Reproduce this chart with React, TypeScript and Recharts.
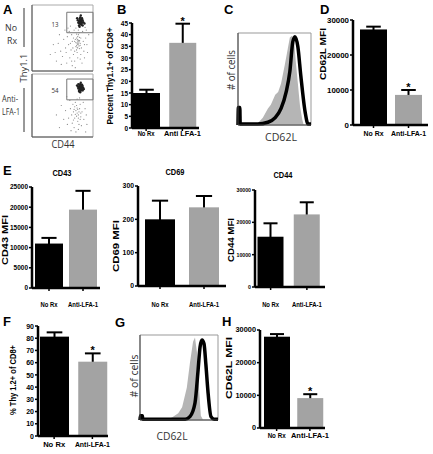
import React from "react";
import {
  BarChart,
  Bar,
  XAxis,
  YAxis,
  ComposedChart,
  Area,
  Line,
  ScatterChart,
  Scatter,
  ReferenceArea,
} from "recharts";

const ARIAL = "'Liberation Sans', Arial, sans-serif";
const FLOW = "'Open Sans', sans-serif";

// groups + bar values
const groupsSpace = ["No Rx", "Anti LFA-1"];
const groupsDash = ["No Rx", "Anti-LFA-1"];
const stars = [false, true];
const noStars = [false, false];

const bValues = [15.0, 36.5];
const bErrors = [1.4, 8.2];
const bTicks = [0, 5, 10, 15, 20, 25, 30, 35, 40, 45];

const dValues = [27300, 8600];
const dErrors = [800, 1400];
const mfiTicks30k = [0, 10000, 20000, 30000];

const cd43Values = [11000, 19400];
const cd43Errors = [1400, 4650];
const cd43Ticks = [0, 5000, 10000, 15000, 20000, 25000];

const cd69Values = [200, 236];
const cd69Errors = [56, 34];
const cd69Ticks = [0, 100, 200, 300];

const cd44Values = [15550, 22450];
const cd44Errors = [4150, 3750];

const fValues = [81.3, 60.8];
const fErrors = [3.5, 6.8];
const fTicks = [0, 10, 20, 30, 40, 50, 60, 70, 80, 90];

const hValues = [27950, 9150];
const hErrors = [800, 1200];

const barFills = ["#000000", "#a3a3a3"];

// histogram traces (CD62L, 0-100 channel scale)
const cGrey = [
  { x: 0, y: 0 }, { x: 23, y: 0 }, { x: 27, y: 2 }, { x: 34, y: 8 }, { x: 41, y: 18 },
  { x: 45, y: 22 }, { x: 51, y: 33 }, { x: 55, y: 36 }, { x: 59, y: 45 }, { x: 64, y: 65 },
  { x: 68, y: 82 }, { x: 71, y: 95 }, { x: 74, y: 97 }, { x: 77, y: 90 }, { x: 79, y: 70 },
  { x: 82, y: 45 }, { x: 85, y: 20 }, { x: 88, y: 6 }, { x: 90, y: 0 }, { x: 100, y: 0 },
];
const cBlack = [
  { x: 0, y: 0 }, { x: 0.5, y: 19 }, { x: 2.5, y: 19 }, { x: 3, y: 1 }, { x: 27, y: 1 },
  { x: 41, y: 3 }, { x: 51, y: 8 }, { x: 59, y: 18 }, { x: 66, y: 36 }, { x: 71, y: 58 },
  { x: 75, y: 90 }, { x: 78, y: 96 }, { x: 82, y: 85 }, { x: 86, y: 54 }, { x: 92, y: 14 },
  { x: 96, y: 1 }, { x: 100, y: 1 },
];
const gGrey = [
  { x: 0, y: 0 }, { x: 32, y: 0 }, { x: 41, y: 3 }, { x: 49, y: 8 }, { x: 54, y: 15 },
  { x: 60, y: 38 }, { x: 64, y: 67 }, { x: 68, y: 92 }, { x: 70.5, y: 97 }, { x: 73, y: 80 },
  { x: 75.5, y: 40 }, { x: 78, y: 5 }, { x: 81, y: 0 }, { x: 100, y: 0 },
];
const gBlack = [
  { x: 0, y: 0 }, { x: 0.5, y: 5 }, { x: 3, y: 5 }, { x: 3.5, y: 1 }, { x: 58, y: 1 },
  { x: 64, y: 4 }, { x: 70.5, y: 20 }, { x: 74.5, y: 59 }, { x: 77, y: 86 }, { x: 79.5, y: 94 },
  { x: 82, y: 90 }, { x: 84.5, y: 65 }, { x: 87, y: 35 }, { x: 91, y: 4 }, { x: 95, y: 1 },
  { x: 100, y: 1 },
];

// flow dot plots (CD44 vs Thy1.1, 0-100 scale)
const topGateDots = [
  [79, 74], [80, 77], [78, 72], [81, 75], [77, 76], [80, 71], [82, 73], [78, 79], [79, 81], [76, 73],
  [83, 77], [81, 70], [77, 69], [80, 84], [84, 74], [75, 77], [82, 80], [78, 67], [86, 72], [79, 76],
  [81, 78], [77, 74], [80, 73], [74, 80], [83, 69],
];
const topLowerDots = [
  [75, 44], [74, 47], [76, 41], [73, 50], [77, 38], [75, 52], [72, 43], [78, 46], [74, 36], [76, 55],
  [71, 48], [79, 42], [73, 32], [77, 58], [75, 40], [70, 45], [80, 50], [74, 28], [76, 62], [72, 37],
  [78, 34], [75, 48], [73, 56], [79, 39], [77, 44], [74, 42], [76, 46], [78, 51], [73, 39], [75, 35],
];
const topSparseDots = [
  [60, 40], [65, 55], [68, 25], [85, 30], [88, 50], [62, 20], [55, 35], [66, 45], [83, 60], [69, 62],
  [58, 52], [90, 40], [64, 32], [86, 20], [70, 15], [80, 25], [52, 48], [67, 35], [84, 45], [61, 60],
  [47, 30], [40, 15], [35, 40], [72, 65], [89, 62], [57, 12], [75, 20], [63, 68], [93, 55], [45, 55],
  [50, 22], [82, 12], [66, 8], [91, 28], [59, 65], [43, 42], [87, 66], [54, 62], [30, 25], [71, 5],
  [68, 50], [63, 42], [81, 35], [70, 30], [86, 40], [56, 28], [79, 18], [65, 15], [48, 10], [38, 28],
];
const botGateDots = [
  [79, 78], [80, 80], [78, 76], [81, 77], [77, 79], [80, 75], [82, 79], [78, 82], [79, 84], [76, 77],
  [83, 81], [81, 74], [77, 73], [80, 86], [84, 78], [75, 80], [82, 83], [78, 72], [85, 76], [79, 80],
  [81, 81], [77, 78], [80, 77], [74, 82], [83, 74], [76, 84], [82, 76], [78, 74], [80, 82], [79, 71],
];
const botCloudDots = [
  [74, 38], [72, 42], [76, 35], [70, 30], [78, 45], [68, 40], [75, 25], [80, 32], [65, 35], [73, 50],
  [77, 20], [71, 55], [82, 40], [66, 22], [79, 52], [63, 45], [85, 28], [69, 15], [74, 60], [60, 30],
  [87, 45], [67, 52], [76, 12], [58, 20], [81, 18], [62, 58], [89, 35], [55, 42], [72, 8], [84, 55],
  [64, 10], [78, 62], [52, 28], [90, 20], [70, 48], [75, 44], [73, 33], [77, 40], [68, 27], [80, 38],
  [48, 50], [45, 15], [88, 8], [57, 64], [40, 35], [71, 36], [76, 30], [74, 46], [79, 28], [69, 44],
];

const flowTicks = [4, 9, 13, 16, 18, 20, 22, 30, 36, 40, 42, 44, 46, 55, 62, 66, 68, 70, 72, 80, 87, 91, 93, 95];

const rows = (names: string[], values: number[], errs: number[], st: boolean[]) =>
  names.map((name, i) => ({ name, value: values[i], err: errs[i], star: st[i] }));
const pts = (arr: number[][]) => arr.map(([x, y]) => ({ x, y }));

function ErrBarShape(props: any) {
  const { x, y, width, height, index, payload } = props;
  const cx = x + width / 2;
  const errPx = payload.value ? (height * payload.err) / payload.value : 0;
  const capW = width * 0.27;
  const topY = y - errPx;
  return (
    <g>
      <line x1={cx} x2={cx} y1={y + 3} y2={topY} stroke="#000" strokeWidth={2} />
      <line x1={cx - capW} x2={cx + capW} y1={topY} y2={topY} stroke="#000" strokeWidth={2} />
      <rect x={x} y={y} width={width} height={height} fill={barFills[index % 2]} />
      {payload.star && (
        <text x={cx} y={topY + 1} textAnchor="middle" fontSize={11} fontWeight={700} fontFamily={ARIAL}>
          *
        </text>
      )}
    </g>
  );
}

// the figure's type is squeezed sideways, so widths are forced with textLength
const yTick = (fs: number, cw: number) => (p: any) => {
  const s = String(p.payload.value);
  return (
    <text x={p.x} y={p.y} dy="0.36em" textAnchor="end" fontSize={fs} fontWeight={700} fontFamily={ARIAL}
      fill="#000" textLength={s.length * cw} lengthAdjust="spacingAndGlyphs">
      {s}
    </text>
  );
};
const xTick = (fs: number, lens: number[]) => (p: any) => (
  <text x={p.x} y={p.y} dy="0.72em" textAnchor="middle" fontSize={fs} fontWeight={700} fontFamily={ARIAL}
    fill="#000" textLength={lens[p.index]} lengthAdjust="spacingAndGlyphs">
    {p.payload.value}
  </text>
);

type BarCfg = {
  data: any[];
  max: number;
  ticks: number[];
  x0: number;
  x1: number;
  yTop: number;
  yBot: number;
  pl: number;
  pr: number;
  barSize: number;
  tickFont: number;
  charW: number;
  xFont: number;
  xLens: number[];
  xMargin: number;
};

function BarPanel(c: BarCfg) {
  const yw = 34;
  const mt = 14;
  const mr = 16;
  const xh = 3 + c.xMargin + c.xFont + 6;
  const w = c.x1 - c.x0 + yw + mr;
  const h = mt + (c.yBot - c.yTop) + xh;
  return (
    <div style={{ position: "absolute", left: c.x0 - yw, top: c.yTop - mt }}>
      <BarChart width={w} height={h} data={c.data} margin={{ top: mt, right: mr, bottom: 0, left: 0 }}>
        <XAxis
          dataKey="name"
          height={xh}
          interval={0}
          padding={{ left: c.pl, right: c.pr }}
          tickSize={3}
          tickMargin={c.xMargin}
          axisLine={{ stroke: "#000", strokeWidth: 2.5 }}
          tickLine={{ stroke: "#000", strokeWidth: 1.5 }}
          tick={xTick(c.xFont, c.xLens)}
        />
        <YAxis
          type="number"
          domain={[0, c.max]}
          ticks={c.ticks}
          interval={0}
          width={yw}
          tickSize={3}
          tickMargin={1}
          axisLine={{ stroke: "#000", strokeWidth: 2.5 }}
          tickLine={{ stroke: "#000", strokeWidth: 1.5 }}
          tick={yTick(c.tickFont, c.charW)}
        />
        <Bar dataKey="value" barSize={c.barSize} isAnimationActive={false} shape={ErrBarShape} />
      </BarChart>
    </div>
  );
}

function HistPanel({ left, top, width, height, grey, black }: any) {
  return (
    <div style={{ position: "absolute", left: left - 4, top: top - 2 }}>
      <ComposedChart width={width + 6} height={height + 6} margin={{ top: 2, right: 2, bottom: 0, left: 0 }}>
        <ReferenceArea x1={0} x2={100} y1={0} y2={100} fill="none" stroke="#999" strokeWidth={1} />
        <XAxis type="number" dataKey="x" domain={[0, 100]} ticks={flowTicks} interval={0} height={4} tick={false}
          tickSize={2} axisLine={{ stroke: "#444" }} tickLine={{ stroke: "#444" }} />
        <YAxis type="number" domain={[0, 100]} ticks={[8, 20, 32, 44, 56, 68, 80, 92]} interval={0} width={4}
          tick={false} tickSize={2} axisLine={{ stroke: "#444" }} tickLine={{ stroke: "#444" }} />
        <Area data={grey} dataKey="y" type="linear" fill="#b5b5b5" fillOpacity={1} stroke="none" isAnimationActive={false} />
        <Line data={black} dataKey="y" type="monotone" stroke="#000" strokeWidth={3.5} dot={false} isAnimationActive={false} />
      </ComposedChart>
    </div>
  );
}

function DotPanel({ left, top, width, height, gate, light, dark }: any) {
  const dot = (r: number, fill: string) => (p: any) => <circle cx={p.cx} cy={p.cy} r={r} fill={fill} />;
  return (
    <div style={{ position: "absolute", left: left - 4, top: top - 2 }}>
      <ScatterChart width={width + 6} height={height + 6} margin={{ top: 2, right: 2, bottom: 0, left: 0 }}>
        <ReferenceArea x1={0} x2={100} y1={0} y2={100} fill="none" stroke="#aaa" strokeWidth={1} />
        <XAxis type="number" dataKey="x" domain={[0, 100]} ticks={flowTicks} interval={0} height={4} tick={false}
          tickSize={2} axisLine={{ stroke: "#555" }} tickLine={{ stroke: "#555" }} />
        <YAxis type="number" dataKey="y" domain={[0, 100]} ticks={flowTicks} interval={0} width={4} tick={false}
          tickSize={2} axisLine={{ stroke: "#555" }} tickLine={{ stroke: "#555" }} />
        <ReferenceArea x1={gate[0]} x2={gate[1]} y1={gate[2]} y2={gate[3]} fill="none" stroke="#777" strokeWidth={1} />
        <Scatter data={light} isAnimationActive={false} shape={dot(0.6, "#888")} />
        <Scatter data={dark} isAnimationActive={false} shape={dot(1.2, "#222")} />
      </ScatterChart>
    </div>
  );
}

const vText = (label: string, cx: number, cy: number, size: number, len: number, bold = true, font = ARIAL, fill = "#000") => (
  <text
    key={label + cx}
    transform={`translate(${cx},${cy}) rotate(-90)`}
    textAnchor="middle"
    dominantBaseline="middle"
    fontSize={size}
    fontWeight={bold ? 700 : 400}
    fontFamily={font}
    fill={fill}
    textLength={len}
    lengthAdjust="spacingAndGlyphs"
  >
    {label}
  </text>
);

export default function App() {
  const letter = (t: string, x: number, y: number) => (
    <text key={t} x={x} y={y} fontSize={13} fontWeight={700} fontFamily={ARIAL}>
      {t}
    </text>
  );
  const flow = (t: string, x: number, y: number, size: number, len: number) => (
    <text key={t + x + y} x={x} y={y} textAnchor="middle" fontSize={size} fontFamily={FLOW} fill="#333"
      textLength={len} lengthAdjust="spacingAndGlyphs">
      {t}
    </text>
  );
  const title = (t: string, x: number, y: number) => (
    <text key={t} x={x} y={y} textAnchor="middle" fontSize={8.5} fontWeight={700} fontFamily={ARIAL}
      textLength={19} lengthAdjust="spacingAndGlyphs">
      {t}
    </text>
  );

  return (
    <div style={{ position: "absolute", left: 0, top: 0, width: 433, height: 454, background: "#fff", overflow: "hidden" }}>
      <DotPanel left={32} top={5} width={61} height={66} gate={[57, 100, 58, 89]}
        light={pts([...topSparseDots, ...topLowerDots])} dark={pts(topGateDots)} />
      <DotPanel left={32} top={74} width={61} height={63} gate={[57, 100, 59, 92]}
        light={pts(botCloudDots)} dark={pts(botGateDots)} />

      <BarPanel data={rows(groupsSpace, bValues, bErrors, stars)} max={45} ticks={bTicks}
        x0={132} x1={199} yTop={23} yBot={128} pl={-4} pr={-1.5} barSize={27}
        tickFont={7.5} charW={3.6} xFont={7.5} xLens={[17, 37]} xMargin={0} />

      <HistPanel left={238} top={33} width={73} height={92} grey={cGrey} black={cBlack} />

      <BarPanel data={rows(groupsDash, dValues, dErrors, stars)} max={30000} ticks={mfiTicks30k}
        x0={353} x1={428} yTop={20} yBot={125} pl={3} pr={2} barSize={27}
        tickFont={7.5} charW={4.4} xFont={7.5} xLens={[20, 35]} xMargin={3} />

      <BarPanel data={rows(groupsDash, cd43Values, cd43Errors, noStars)} max={25000} ticks={cd43Ticks}
        x0={32} x1={100} yTop={187} yBot={288} pl={0} pr={0} barSize={28}
        tickFont={6.5} charW={3.6} xFont={7.5} xLens={[17, 30]} xMargin={11} />
      <BarPanel data={rows(groupsDash, cd69Values, cd69Errors, noStars)} max={300} ticks={cd69Ticks}
        x0={138} x1={226} yTop={186} yBot={286} pl={0} pr={0} barSize={30}
        tickFont={6.5} charW={3.8} xFont={7.5} xLens={[17, 30]} xMargin={13} />
      <BarPanel data={rows(groupsDash, cd44Values, cd44Errors, noStars)} max={30000} ticks={mfiTicks30k}
        x0={255} x1={325} yTop={190} yBot={287} pl={-2.5} pr={0} barSize={26}
        tickFont={5.5} charW={2.9} xFont={7.5} xLens={[17, 30]} xMargin={12} />

      <BarPanel data={rows(groupsDash, fValues, fErrors, stars)} max={90} ticks={fTicks}
        x0={38} x1={108} yTop={326} yBot={436} pl={-3} pr={-3.5} barSize={29}
        tickFont={7.5} charW={3.9} xFont={7.5} xLens={[22, 35]} xMargin={3} />

      <HistPanel left={140} top={335} width={78} height={85} grey={gGrey} black={gBlack} />

      <BarPanel data={rows(groupsDash, hValues, hErrors, stars)} max={30000} ticks={mfiTicks30k}
        x0={260} x1={325} yTop={330} yBot={428} pl={0} pr={-1.5} barSize={26}
        tickFont={6.5} charW={4.1} xFont={7.5} xLens={[18, 38]} xMargin={2} />

      <svg width={433} height={454} style={{ position: "absolute", left: 0, top: 0, pointerEvents: "none" }}>
        {letter("A", 3, 14)}
        {letter("B", 117, 14)}
        {letter("C", 224, 14)}
        {letter("D", 320, 14)}
        {letter("E", 3, 175)}
        {letter("F", 3, 326)}
        {letter("G", 115, 327)}
        {letter("H", 222, 326)}

        {flow("No", 11, 31, 9, 12)}
        {flow("Rx", 12, 44, 9, 10)}
        {flow("Anti-", 10, 102, 9, 16)}
        {flow("LFA-1", 11, 115, 9, 18)}
        {flow("CD44", 63, 148, 10.5, 23)}
        {flow("13", 55, 27, 8, 7)}
        {flow("54", 55, 93, 8, 7)}
        <line x1={24} x2={24} y1={8} y2={47} stroke="#333" strokeWidth={1} />
        <line x1={24} x2={24} y1={88} y2={132} stroke="#333" strokeWidth={1} />
        {vText("Thy1.1", 24, 68, 9.5, 29, false, FLOW, "#333")}

        {vText("# of cells", 232, 70, 10.5, 40, false, FLOW, "#333")}
        {flow("CD62L", 281, 141, 10.5, 32)}
        {vText("# of cells", 135, 376, 10.5, 43, false, FLOW, "#333")}
        {flow("CD62L", 172, 440, 10.5, 31)}

        {vText("Percent Thy1.1+ of CD8+", 111, 76, 9, 97)}
        {vText("CD62L MFI", 324, 54, 9, 52)}
        {vText("CD43 MFI", 5, 240, 9.5, 50)}
        {vText("CD69 MFI", 116, 246, 9.5, 52)}
        {vText("CD44 MFI", 232, 240, 8.5, 44)}
        {vText("% Thy 1.2+ of CD8+", 14, 380, 9, 70)}
        {vText("CD62L MFI", 230, 368, 8.5, 62)}

        {title("CD43", 62, 176)}
        {title("CD69", 175, 175)}
        {title("CD44", 283, 178)}
      </svg>
    </div>
  );
}
